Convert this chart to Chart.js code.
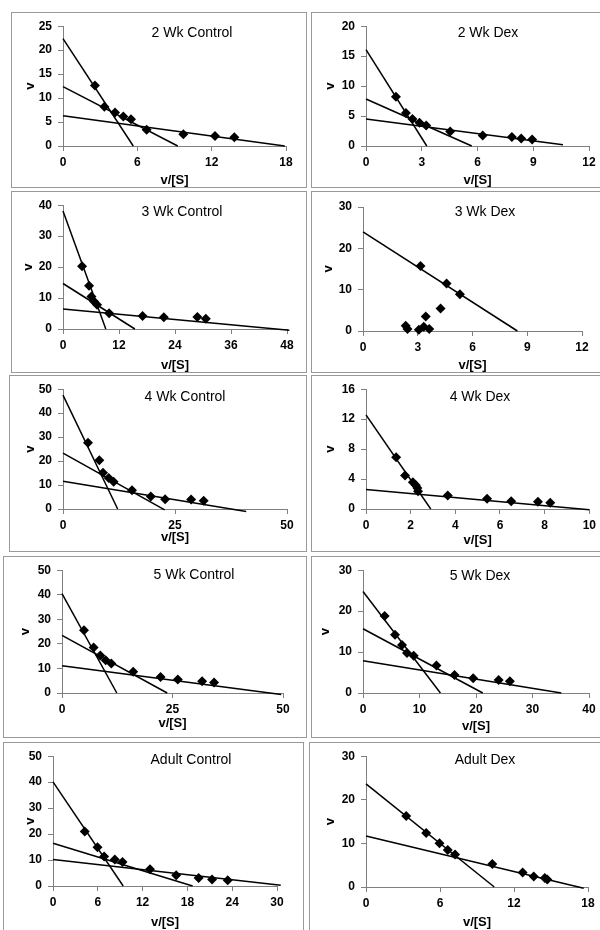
<!DOCTYPE html>
<html>
<head>
<meta charset="utf-8">
<script src="https://cdn.jsdelivr.net/npm/chart.js@4.4.0/dist/chart.umd.min.js"></script>
<style>
  body { margin: 0; background: #fff; width: 600px; height: 930px; overflow: hidden; position: relative;
         font-family: "Liberation Sans", Arial, sans-serif; }
  .panel { position: absolute; border: 1px solid #999; box-sizing: border-box; background: #fff; }
  .panel canvas { position: absolute; left: 0; top: 0; }
  .ttl { position: absolute; font-size: 14px; white-space: nowrap; transform: translate(-50%, -50%); color: #000; }
</style>
</head>
<body>
<script>
// values: v/[S] (x) and v (y), plus the fitted line end points
const wk2CtrlX = [2.58, 3.34, 4.2, 4.87, 5.49, 6.75, 9.71, 12.27, 13.83];
const wk2CtrlV = [12.6, 8.2, 7.0, 6.15, 5.6, 3.4, 2.46, 2.1, 1.84];
const wk2CtrlLines = [[[0, 22.4], [5.67, 0]], [[0, 12.4], [9.26, 0]], [[0, 6.3], [17.9, 0]]];

const wk2DexX = [1.61, 2.15, 2.5, 2.88, 3.24, 4.53, 6.28, 7.85, 8.35, 8.94];
const wk2DexV = [8.23, 5.5, 4.5, 3.87, 3.43, 2.43, 1.77, 1.49, 1.27, 1.1];
const wk2DexLines = [[[0, 16.1], [3.27, 0]], [[0, 7.85], [5.69, 0]], [[0, 4.5], [10.6, 0.2]]];

const wk3CtrlX = [4.08, 5.59, 6.09, 6.66, 7.3, 9.89, 17.05, 21.6, 28.8, 30.6];
const wk3CtrlV = [20.3, 14.0, 10.5, 8.9, 7.8, 5.05, 4.2, 3.8, 3.9, 3.3];
const wk3CtrlLines = [[[0, 38.1], [9.17, 0]], [[0, 14.7], [15.4, 0]], [[0, 6.5], [48.5, -0.4]]];

const wk3DexX = [3.15, 4.58, 5.31, 4.25, 3.44, 2.34, 2.44, 3.06, 3.33, 3.63];
const wk3DexV = [15.7, 11.5, 8.9, 5.45, 3.5, 1.3, 0.5, 0.3, 1.0, 0.5];
const wk3DexLines = [[[0, 24.0], [8.46, 0]]];

const wk4CtrlX = [5.58, 8.1, 8.93, 10.2, 11.3, 15.4, 19.6, 22.8, 28.6, 31.4];
const wk4CtrlV = [27.7, 20.3, 15.1, 12.9, 11.4, 7.8, 5.2, 4.1, 4.0, 3.4];
const wk4CtrlLines = [[[0, 47.5], [12.2, 0]], [[0, 23.3], [22.7, -0.4]], [[0, 11.6], [40.9, -1.0]]];

const wk4DexX = [1.35, 1.75, 2.1, 2.23, 2.3, 2.33, 3.66, 5.42, 6.5, 7.7, 8.25];
const wk4DexV = [6.9, 4.48, 3.56, 3.16, 2.81, 2.37, 1.8, 1.36, 1.05, 0.97, 0.84];
const wk4DexLines = [[[0, 12.57], [2.9, 0]], [[0, 2.6], [10.0, -0.1]]];

const wk5CtrlX = [4.98, 7.16, 8.67, 9.88, 11.16, 16.1, 22.3, 26.2, 31.7, 34.4];
const wk5CtrlV = [25.5, 18.5, 15.3, 13.3, 12.0, 8.7, 6.5, 5.5, 4.8, 4.3];
const wk5CtrlLines = [[[0, 40.5], [12.4, 0]], [[0, 23.5], [23.8, 0]], [[0, 11.1], [49.6, -0.6]]];

const wk5DexX = [3.83, 5.66, 6.9, 7.79, 8.97, 13.0, 16.2, 19.5, 24.0, 26.0];
const wk5DexV = [18.8, 14.2, 11.7, 9.8, 9.1, 6.7, 4.4, 3.6, 3.2, 2.9];
const wk5DexLines = [[[0, 24.8], [13.7, 0]], [[0, 15.7], [21.2, 0]], [[0, 7.9], [35.1, 0]]];

const adultCtrlX = [4.25, 5.96, 6.85, 8.28, 9.31, 12.99, 16.5, 19.5, 21.3, 23.4];
const adultCtrlV = [21.0, 14.9, 11.4, 10.2, 9.2, 6.45, 4.1, 3.1, 2.5, 2.2];
const adultCtrlLines = [[[0, 40.1], [9.4, 0]], [[0, 16.5], [18.7, 0]], [[0, 10.2], [30.5, 0.3]]];

const adultDexX = [3.26, 4.88, 5.96, 6.63, 7.22, 10.24, 12.7, 13.6, 14.5, 14.7];
const adultDexV = [16.3, 12.4, 10.05, 8.5, 7.47, 5.3, 3.3, 2.4, 2.07, 1.7];
const adultDexLines = [[[0, 23.65], [10.4, 0]], [[0, 11.7], [17.65, -0.3]]];

// axis ranges: [xMax, xStep, yMax, yStep]
const axes = [
  [18, 6, 25, 5], [12, 3, 20, 5],
  [48, 12, 40, 10], [12, 3, 30, 10],
  [50, 25, 50, 10], [10, 2, 16, 4],
  [50, 25, 50, 10], [40, 10, 30, 10],
  [30, 6, 50, 10], [18, 6, 30, 10]
];

const titles = ['2 Wk Control', '2 Wk Dex', '3 Wk Control', '3 Wk Dex', '4 Wk Control',
                '4 Wk Dex', '5 Wk Control', '5 Wk Dex', 'Adult Control', 'Adult Dex'];
const series = [
  [wk2CtrlX, wk2CtrlV, wk2CtrlLines], [wk2DexX, wk2DexV, wk2DexLines],
  [wk3CtrlX, wk3CtrlV, wk3CtrlLines], [wk3DexX, wk3DexV, wk3DexLines],
  [wk4CtrlX, wk4CtrlV, wk4CtrlLines], [wk4DexX, wk4DexV, wk4DexLines],
  [wk5CtrlX, wk5CtrlV, wk5CtrlLines], [wk5DexX, wk5DexV, wk5DexLines],
  [adultCtrlX, adultCtrlV, adultCtrlLines], [adultDexX, adultDexV, adultDexLines]
];

// page layout: box [l,t,r,b], plot [l,t,r,b], title centre, "v" x, "v/[S]" y
const layout = [
  { box: [11, 12, 307, 188], plot: [63, 24, 286, 146], title: [192, 32], vX: 30, sY: 180 },
  { box: [311, 12, 601, 188], plot: [366, 25, 589, 146], title: [488, 32], vX: 330, sY: 180 },
  { box: [11, 191, 307, 373], plot: [63, 203, 287, 329], title: [182, 211], vX: 28, sY: 365 },
  { box: [311, 191, 601, 373], plot: [363, 207, 582, 331], title: [485, 211], vX: 328, sY: 365 },
  { box: [9, 375, 307, 552], plot: [63, 387, 287, 509], title: [185, 396], vX: 30, sY: 537 },
  { box: [311, 375, 601, 552], plot: [366, 387, 590, 509], title: [480, 396], vX: 330, sY: 540 },
  { box: [3, 556, 307, 738], plot: [62, 565, 283, 693], title: [194, 574], vX: 25, sY: 723 },
  { box: [311, 556, 601, 738], plot: [363, 567, 589, 693], title: [480, 575], vX: 325, sY: 726 },
  { box: [3, 742, 304, 935], plot: [53, 751, 277, 886], title: [191, 759], vX: 30, sY: 922 },
  { box: [309, 742, 601, 935], plot: [366, 751, 588, 887], title: [485, 759], vX: 330, sY: 922 }
];

Chart.defaults.font.family = '"Liberation Sans", Arial, sans-serif';
Chart.defaults.color = '#000';

const axisGray = '#808080';
const titleFont = { size: 13, weight: 'bold' };
const half = 13 * 1.2 / 2;

layout.forEach((lay, i) => {
  const [bl, bt, br, bb] = lay.box;
  const [pl, pt, pr, pb] = lay.plot;
  const [xMax, xStep, yMax, yStep] = axes[i];
  const [xs, vs, lines] = series[i];

  const div = document.createElement('div');
  div.className = 'panel';
  div.style.left = bl + 'px';
  div.style.top = bt + 'px';
  div.style.width = (br - bl) + 'px';
  div.style.height = (bb - bt) + 'px';
  const w = br - bl - 2, h = bb - bt - 2;
  const canvas = document.createElement('canvas');
  canvas.width = w;
  canvas.height = h;
  div.appendChild(canvas);
  document.body.appendChild(div);

  const t = document.createElement('div');
  t.className = 'ttl';
  t.textContent = titles[i];
  t.style.left = lay.title[0] + 'px';
  t.style.top = lay.title[1] + 'px';
  document.body.appendChild(t);

  const datasets = [{
    data: xs.map((x, k) => ({ x: x, y: vs[k] })),
    pointStyle: 'rectRot',
    pointRadius: 5,
    pointHoverRadius: 5,
    backgroundColor: '#000',
    borderColor: '#000',
    borderWidth: 0,
    showLine: false,
    clip: false
  }];
  lines.forEach(l => {
    datasets.push({
      data: l.map(p => ({ x: p[0], y: p[1] })),
      showLine: true,
      borderColor: '#000',
      borderWidth: 1.5,
      pointRadius: 0,
      clip: false
    });
  });

  const yWidth = pl - (bl + 1);
  const xHeight = (bb - 1) - pb;

  new Chart(canvas.getContext('2d'), {
    type: 'scatter',
    data: { datasets: datasets },
    options: {
      responsive: false,
      animation: false,
      devicePixelRatio: 1,
      layout: { padding: { left: 0, top: pt - (bt + 1), right: (br - 1) - pr, bottom: 0 } },
      plugins: { legend: { display: false }, tooltip: { enabled: false } },
      scales: {
        x: {
          type: 'linear', min: 0, max: xMax,
          ticks: { stepSize: xStep, padding: 4, font: { size: 12, weight: 'bold' }, maxRotation: 0 },
          grid: { drawOnChartArea: false, drawTicks: true, tickLength: 5, color: axisGray },
          border: { color: axisGray, width: 1 },
          title: { display: true, text: 'v/[S]', font: titleFont,
                   padding: { top: 0, bottom: h - half - (lay.sY - bt - 1) } },
          afterFit: s => { s.height = xHeight; }
        },
        y: {
          type: 'linear', min: 0, max: yMax,
          ticks: { stepSize: yStep, padding: 6, font: { size: 12, weight: 'bold' } },
          grid: { drawOnChartArea: false, drawTicks: true, tickLength: 5, color: axisGray },
          border: { color: axisGray, width: 1 },
          title: { display: true, text: 'v', font: titleFont,
                   padding: { top: lay.vX - (bl + 1) - half, bottom: 0 } },
          afterFit: s => { s.width = yWidth; }
        }
      }
    }
  });
});
</script>
</body>
</html>
